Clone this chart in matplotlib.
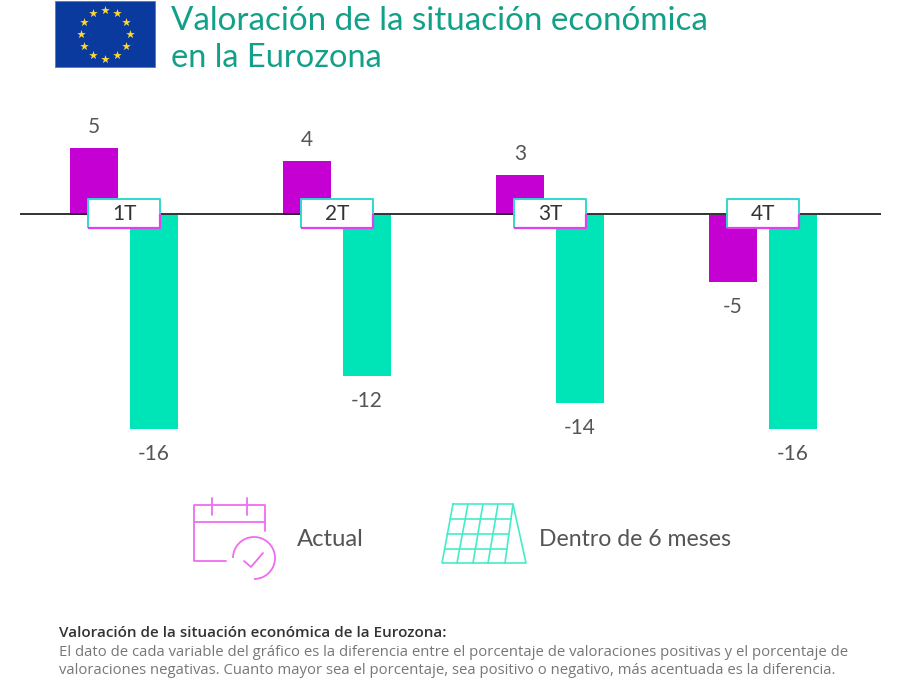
import numpy as np
import matplotlib
matplotlib.use("Agg")
import matplotlib.pyplot as plt
from matplotlib.patches import Rectangle, Arc

plt.rcParams['font.family'] = ['Lato', 'DejaVu Sans']
plt.rcParams['lines.solid_joinstyle'] = 'round'
plt.rcParams['lines.solid_capstyle'] = 'round'

trimestres = ["1T", "2T", "3T", "4T"]
actual = [5, 4, 3, -5]
dentro_6_meses = [-16, -12, -14, -16]

MAGENTA = "#c400d2"
VERDE = "#00e5b8"
TITULO = "#12a088"
TEXTO = "#555555"
MAG_ICON = "#ee6cf0"
VER_ICON = "#45ecc8"

fig = plt.figure(figsize=(9, 6.87), dpi=100)

# capa de fondo en pixeles, para bandera, iconos y textos
bg = fig.add_axes([0, 0, 1, 1])
bg.set_xlim(0, 900)
bg.set_ylim(687, 0)
bg.axis("off")

# grafico de barras: 213 px entre grupos y 13.4 px por unidad
ax = fig.add_axes([20/900, (687-470)/687, 861/900, 360/687])
ax.patch.set_alpha(0)
ax.set_xlim((20-124)/213, (881-124)/213)
ax.set_ylim(-(470-215)/13.4, (215-110)/13.4)
ax.axis("off")

x = np.arange(len(trimestres))
off = 30/213
w = 48/213
ax.bar(x-off, actual, w, color=MAGENTA, zorder=2)
ax.bar(x+off, dentro_6_meses, w, color=VERDE, zorder=2)


def etiqueta(xp, val):
    dy = 21 if val > 0 else -25
    ax.annotate(str(val), (xp, val), xytext=(0, dy*0.72), textcoords="offset points",
                ha="center", va="center", fontsize=15, color=TEXTO)


for i in range(len(trimestres)):
    etiqueta(x[i]-off, actual[i])
    etiqueta(x[i]+off, dentro_6_meses[i])

# linea base y cajas de trimestre
ov = fig.add_axes([0, 0, 1, 1], label="cajas")
ov.set_xlim(0, 900)
ov.set_ylim(687, 0)
ov.axis("off")
ov.patch.set_alpha(0)
ov.plot([20, 881], [214, 214], color="#222222", lw=1.3, solid_capstyle="butt")
for i, t in enumerate(trimestres):
    c = 124 + 213*i
    ov.add_patch(Rectangle((c-36, 199), 72, 29, fc="white", ec="none", zorder=2))
    ov.plot([c-36, c-36, c+36, c+36], [228, 199, 199, 228], color="#30d8cc", lw=1.4, solid_capstyle="butt", zorder=3)
    ov.plot([c-36, c+36, c+36], [228, 228, 214], color="#e040ee", lw=1.6, solid_capstyle="butt", zorder=3)
    ov.text(c, 214, t, ha="center", va="center", fontsize=15, color="#333333", zorder=4)

# bandera
bg.add_patch(Rectangle((55, 1), 100, 66, fc="#0b3a9e", ec="#5a78c0", lw=0.6))
ang = np.arange(12)*np.pi/6
bg.scatter(105+24.5*np.sin(ang), 34-24.5*np.cos(ang), marker="*", s=42, color="#ffd92e", linewidths=0, zorder=3)

# titulo
bg.text(171, 21, "Valoración de la situación económica", fontsize=23.9, color=TITULO, va="center", ha="left")
bg.text(171, 58, "en la Eurozona", fontsize=23.4, color=TITULO, va="center", ha="left")

# icono calendario
bg.plot([226, 194, 194, 265, 265], [561, 561, 505, 505, 531], color=MAG_ICON, lw=1.3)
bg.plot([194, 265], [522, 522], color=MAG_ICON, lw=1.3)
bg.plot([212, 212], [498, 515], color=MAG_ICON, lw=1.3)
bg.plot([247, 247], [498, 515], color=MAG_ICON, lw=1.3)
bg.add_patch(Arc((254, 558), 42, 42, theta1=180, theta2=450, color=MAG_ICON, lw=1.3))
bg.plot([244, 251, 263], [561, 567, 553], color=MAG_ICON, lw=1.3)
bg.text(297, 540, "Actual", fontsize=17.2, color=TEXTO, va="center", ha="left")

# icono panel
bg.plot([453, 513, 526, 442, 453], [504, 504, 563, 563, 504], color=VER_ICON, lw=1.2)
bg.plot([513, 505], [504, 563], color=VER_ICON, lw=1.2)
for ya in [519, 534, 549]:
    fr = (ya-504)/59
    bg.plot([453-11*fr, 513-8*fr], [ya, ya], color=VER_ICON, lw=1.2)
for xa, xb in [(468, 457), (483, 473), (498, 488)]:
    bg.plot([xa, xb], [504, 563], color=VER_ICON, lw=1.2)
bg.text(539, 540, "Dentro de 6 meses", fontsize=16.6, color=TEXTO, va="center", ha="left")

# nota
bg.text(59, 633, "Valoración de la situación económica de la Eurozona:", fontsize=11, color="#333333",
        fontweight="semibold", family="Open Sans", va="center", ha="left")
bg.text(59, 652, "El dato de cada variable del gráfico es la diferencia entre el porcentaje de valoraciones positivas y el porcentaje de",
        fontsize=10.7, color="#777777", family="Open Sans", va="center", ha="left")
bg.text(59, 671, "valoraciones negativas. Cuanto mayor sea el porcentaje, sea positivo o negativo, más acentuada es la diferencia.",
        fontsize=10.7, color="#777777", family="Open Sans", va="center", ha="left")

fig.savefig("out.png", dpi=100)
